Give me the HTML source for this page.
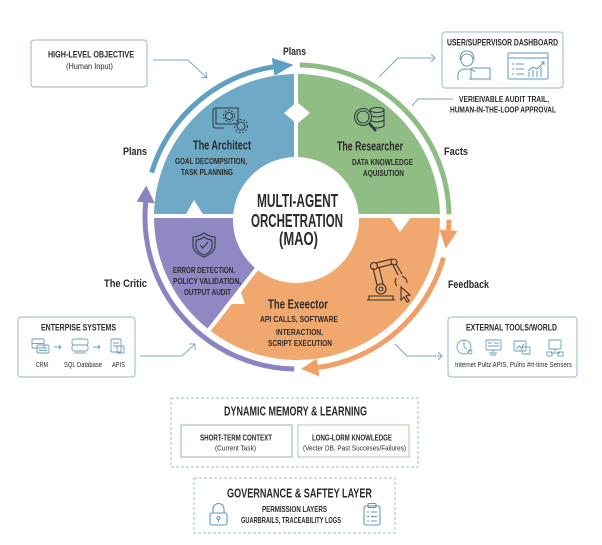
<!DOCTYPE html>
<html>
<head>
<meta charset="utf-8">
<style>
html,body{margin:0;padding:0;background:#fff;}
svg{display:block;}
text{font-family:"Liberation Sans",sans-serif;fill:#2b2b2b;}
.b{font-weight:bold;}
</style>
</head>
<body>
<svg width="602" height="545" viewBox="0 0 602 545" xmlns="http://www.w3.org/2000/svg">
<rect width="602" height="545" fill="#fff"/>

<!-- Quadrant sectors -->
<path d="M297,217 L154,217 A143,143 0 0 1 297,74 Z" fill="#6eaac5"/>
<path d="M297,217 L297,74 A143,143 0 0 1 440,217 Z" fill="#90bd83"/>
<path d="M297,217 L440,217 A143,143 0 0 1 209,329.7 Z" fill="#f0a86f"/>
<path d="M297,217 L209,329.7 A143,143 0 0 1 154,217 Z" fill="#9088c3"/>

<!-- Gaps -->
<line x1="296" y1="68" x2="296" y2="218" stroke="#fff" stroke-width="4"/>
<line x1="148" y1="216" x2="446" y2="216" stroke="#fff" stroke-width="4"/>
<line x1="297" y1="217" x2="205" y2="335" stroke="#fff" stroke-width="4"/>

<!-- Notches -->
<polygon points="297,102 310,113 297,124 284,113" fill="#fff"/>
<polygon points="185,216 194,200 204,216" fill="#fff"/>
<polygon points="389,216 400,232 412,216" fill="#fff"/>
<polygon points="240,290 229,304 245,304" fill="#fff"/>

<!-- Inner circle -->
<circle cx="296" cy="220" r="63" fill="#fff"/>

<!-- Outer ring arrows -->
<path d="M151.6,172.6 A152,152 0 0 1 273.2,66.9" fill="none" stroke="#5f9fc0" stroke-width="5"/>
<polygon points="274.6,75.8 271.8,58.0 293.5,64.8" fill="#5f9fc0"/>

<path d="M299.7,65 A152,152 0 0 1 449,214.3" fill="none" stroke="#8ebd83" stroke-width="5"/>

<path d="M449,219.7 A152,152 0 0 1 448.4,230.2" fill="none" stroke="#f0a066" stroke-width="5"/>
<polygon points="439.5,229.5 457.4,231 445.7,248.6" fill="#f0a066"/>

<path d="M443.5,257.6 A152,152 0 0 1 318.2,367.5" fill="none" stroke="#f0a066" stroke-width="5"/>
<polygon points="316.9,358.6 319.4,376.4 301,368.9" fill="#f0a066"/>

<path d="M294.3,369 A152,152 0 0 1 145.7,202.4" fill="none" stroke="#8a84c4" stroke-width="5"/>
<polygon points="154.7,203.3 136.7,201.6 146.3,185.4" fill="#8a84c4"/>

<!-- Ring labels -->
<text x="283" y="55" font-size="11" class="b" textLength="23" lengthAdjust="spacingAndGlyphs">Plans</text>
<text x="123" y="155" font-size="11" class="b" textLength="24" lengthAdjust="spacingAndGlyphs">Plans</text>
<text x="444" y="155" font-size="11" class="b" textLength="24" lengthAdjust="spacingAndGlyphs">Facts</text>
<text x="104" y="287" font-size="11" class="b" textLength="43" lengthAdjust="spacingAndGlyphs">The Critic</text>
<text x="448" y="288" font-size="11" class="b" textLength="41" lengthAdjust="spacingAndGlyphs">Feedback</text>

<!-- Center text -->
<text x="257" y="207" font-size="18" class="b" textLength="81" lengthAdjust="spacingAndGlyphs">MULTI-AGENT</text>
<text x="251" y="227" font-size="18" class="b" textLength="92" lengthAdjust="spacingAndGlyphs">ORCHETRATION</text>
<text x="279" y="245" font-size="18" class="b" textLength="39" lengthAdjust="spacingAndGlyphs">(MAO)</text>

<!-- Architect -->
<g fill="none" stroke="#2f3b44" stroke-width="1">
  <path d="M216,108 h22 v16 h-22 z"/>
  <path d="M216,108 q-3,0 -3,3 v14 q0,3 3,3 h8"/>
  <circle cx="229" cy="116" r="3.5"/>
  <circle cx="229" cy="116" r="5.5" stroke-dasharray="2 1.5"/>
  <circle cx="241" cy="126" r="4"/>
  <circle cx="241" cy="126" r="6.5" stroke-dasharray="2 1.6"/>
</g>
<text x="193" y="149.5" font-size="12.5" class="b" textLength="58" lengthAdjust="spacingAndGlyphs">The Architect</text>
<text x="175" y="164" font-size="8.5" class="b" textLength="72" lengthAdjust="spacingAndGlyphs">GOAL DECOMPSITION,</text>
<text x="181" y="175" font-size="8.5" class="b" textLength="52" lengthAdjust="spacingAndGlyphs">TASK PLANNING</text>

<!-- Researcher -->
<g fill="none" stroke="#2f3b44" stroke-width="1.1">
  <ellipse cx="377" cy="110" rx="7" ry="2.5"/>
  <path d="M370,110 v16 q7,4 14,0 v-16"/>
  <path d="M370,115 q7,4 14,0 M370,120 q7,4 14,0"/>
  <circle cx="363" cy="117" r="8.5" fill="#90bd83"/>
  <circle cx="363" cy="117" r="6"/>
  <path d="M369,123 l7,8" stroke-width="2.5"/>
</g>
<text x="337" y="150.5" font-size="12.5" class="b" textLength="66" lengthAdjust="spacingAndGlyphs">The Researcher</text>
<text x="352" y="165" font-size="8.5" class="b" textLength="61" lengthAdjust="spacingAndGlyphs">DATA KNOWLEDGE</text>
<text x="363" y="176" font-size="8.5" class="b" textLength="41" lengthAdjust="spacingAndGlyphs">AQUISUTION</text>

<!-- Critic shield -->
<g fill="none" stroke="#2f3b44" stroke-width="1.1">
  <path d="M204,233 q-6,4 -11,4 v8 q0,8 11,12 q11,-4 11,-12 v-8 q-5,0 -11,-4 z"/>
  <path d="M204,237 q-4,3 -8,3 v6 q0,6 8,9 q8,-3 8,-9 v-6 q-4,0 -8,-3 z"/>
  <path d="M200,245 l3,3 l5,-6"/>
</g>
<text x="173" y="273" font-size="8.5" class="b" textLength="62" lengthAdjust="spacingAndGlyphs">ERROR DETECTION,</text>
<text x="173" y="284" font-size="8.5" class="b" textLength="68" lengthAdjust="spacingAndGlyphs">POLICY VALIDATION,</text>
<text x="184" y="295" font-size="8.5" class="b" textLength="47" lengthAdjust="spacingAndGlyphs">OUTPUT AUDIT</text>

<!-- Executor robot -->
<g fill="none" stroke="#3a3026" stroke-width="1.1">
  <path d="M367,300 h28 M369,300 v-4 h24 v4"/>
  <circle cx="381" cy="289" r="5"/>
  <circle cx="381" cy="289" r="2"/>
  <path d="M377,285 l-4,-17 M383,284 l-4,-17"/>
  <circle cx="374" cy="266" r="3.5"/>
  <path d="M376,263 l16,-4 M377,268 l16,-4"/>
  <circle cx="394" cy="262" r="3"/>
  <path d="M396,264 l6,10 M393,265 l5,10"/>
  <path d="M396,278 q-2,5 1,8 M402,276 q5,2 5,7"/>
  <path d="M401,287 l0,13 l3,-3 l3,5 l2,-1 l-3,-5 l4,-1 z"/>
</g>
<text x="268" y="308.5" font-size="12.5" class="b" textLength="60" lengthAdjust="spacingAndGlyphs">The Exeector</text>
<text x="260" y="322" font-size="8.5" class="b" textLength="78" lengthAdjust="spacingAndGlyphs">API CALLS, SOFTWARE</text>
<text x="276" y="335" font-size="8.5" class="b" textLength="47" lengthAdjust="spacingAndGlyphs">INTERACTION,</text>
<text x="268" y="346" font-size="8.5" class="b" textLength="64" lengthAdjust="spacingAndGlyphs">SCRIPT EXECUTION</text>

<!-- High-level objective box -->
<rect x="31" y="40" width="116" height="47" rx="3" fill="#fff" stroke="#8fb9d0" stroke-width="1"/>
<text x="48" y="57.5" font-size="9.5" class="b" textLength="86" lengthAdjust="spacingAndGlyphs">HIGH-LEVEL OBJECTIVE</text>
<text x="66" y="69" font-size="8.5" textLength="47" lengthAdjust="spacingAndGlyphs">(Human Input)</text>
<g fill="none" stroke="#7fa9c2" stroke-width="1">
  <path d="M153,60 h35 l19,18"/>
  <path d="M201,77 l6,1 l-1,-6"/>
</g>

<!-- User dashboard box -->
<rect x="442" y="32" width="121" height="56" rx="3" fill="#fff" stroke="#8fb9d0" stroke-width="1"/>
<text x="447" y="45.5" font-size="9.5" class="b" textLength="111" lengthAdjust="spacingAndGlyphs">USER/SUPERVISOR DASHBOARD</text>
<g fill="none" stroke="#5f98bd" stroke-width="1">
  <circle cx="467" cy="60" r="6"/>
  <path d="M460,60 q0,-9 7,-9 q7,0 7,9"/>
  <path d="M458,80 v-5 q0,-6 9,-6 q6,0 8,3"/>
  <rect x="471" y="68" width="19" height="11" rx="1"/>
  <path d="M469,79 h22"/>
  <rect x="508" y="53" width="40" height="26" rx="1"/>
  <path d="M508,58 h40"/>
  <path d="M512,64 h2 M516,64 h8 M512,69 h2 M516,69 h8 M512,74 h2 M516,74 h8"/>
  <path d="M529,77 v-5 M533,77 v-7 M537,77 v-6 M541,77 v-10"/>
  <path d="M528,71 l5,-4 l4,2 l7,-7 M541,62 h3 v3"/>
</g>
<g fill="none" stroke="#7fa9c2" stroke-width="1">
  <path d="M379,77 l19,-19 h37"/>
  <path d="M431,54 l4,4 l-4,4"/>
  <path d="M412,106 l6,-7 h35"/>
</g>
<text x="459" y="102" font-size="8" class="b" textLength="90" lengthAdjust="spacingAndGlyphs">VERIEIVABLE AUDIT TRAIL,</text>
<text x="450" y="112.5" font-size="8" class="b" textLength="106" lengthAdjust="spacingAndGlyphs">HUMAN-IN-THE-LOOP APPROVAL</text>

<!-- Enterprise box -->
<rect x="18" y="317" width="117" height="60" rx="3" fill="#fff" stroke="#8fb9d0" stroke-width="1"/>
<text x="41" y="330.5" font-size="9.5" class="b" textLength="75" lengthAdjust="spacingAndGlyphs">ENTERPISE SYSTEMS</text>
<g fill="none" stroke="#6a9ec0" stroke-width="0.9">
  <rect x="32" y="339" width="12" height="9" rx="1"/>
  <path d="M32,343.5 h12"/>
  <rect x="37" y="345" width="12" height="8" rx="1"/>
  <path d="M39,348 h8 M39,350.5 h8"/>
  <path d="M54,347 h7 M59,345 l2,2 l-2,2"/>
  <rect x="72" y="339" width="16" height="6" rx="2"/>
  <rect x="72" y="345" width="16" height="6" rx="2"/>
  <path d="M74,353 h12"/>
  <path d="M93,347 h7 M98,345 l2,2 l-2,2"/>
  <rect x="111" y="339" width="10" height="13" rx="1"/>
  <path d="M113,343 h6 M113,346 h6"/>
  <rect x="117" y="346" width="7" height="7" rx="1"/>
</g>
<text x="36" y="367" font-size="7.5" textLength="12" lengthAdjust="spacingAndGlyphs">CRM</text>
<text x="64" y="367" font-size="7.5" textLength="38" lengthAdjust="spacingAndGlyphs">SQL Database</text>
<text x="112" y="367" font-size="7.5" textLength="13" lengthAdjust="spacingAndGlyphs">APIS</text>
<g fill="none" stroke="#7fa9c2" stroke-width="1">
  <path d="M140,356 h42 l13,-12"/>
  <path d="M189,344 h6 v6"/>
</g>

<!-- External tools box -->
<rect x="448" y="317" width="129" height="60" rx="3" fill="#fff" stroke="#8fb9d0" stroke-width="1"/>
<text x="466" y="330.5" font-size="9.5" class="b" textLength="91" lengthAdjust="spacingAndGlyphs">EXTERNAL TOOLS/WORLD</text>
<g fill="none" stroke="#6a9ec0" stroke-width="0.9">
  <circle cx="464" cy="347" r="7"/>
  <path d="M464,341 v6 l3,2"/>
  <circle cx="470" cy="352" r="2"/>
  <rect x="486" y="340" width="15" height="10" rx="1"/>
  <path d="M488,343 h4 M494,343 h5 M488,346 h11"/>
  <path d="M493,350 v3 M489,353 h8 M490,355 h6"/>
  <rect x="514" y="341" width="12" height="10" rx="1"/>
  <path d="M516,349 l3,-3 l2,2 l3,-4"/>
  <rect x="522" y="347" width="8" height="7" rx="1"/>
  <rect x="549" y="340" width="12" height="9" rx="1"/>
  <path d="M555,349 v3 M551,353 h9"/>
  <rect x="547" y="352" width="5" height="4"/>
  <rect x="558" y="352" width="5" height="4"/>
</g>
<text x="455" y="367" font-size="7.5" textLength="117" lengthAdjust="spacingAndGlyphs">Internet Pultz APIS, Pulris #rt-time Sensers</text>
<g fill="none" stroke="#7fa9c2" stroke-width="1">
  <path d="M395,344 l12,12 h35"/>
  <path d="M438,352 l4,4 l-4,4"/>
</g>

<!-- Dynamic memory -->
<rect x="171" y="398" width="247" height="69" fill="none" stroke="#9cc0d6" stroke-width="1" stroke-dasharray="3 2"/>
<text x="224" y="415.5" font-size="12.5" class="b" textLength="143" lengthAdjust="spacingAndGlyphs">DYNAMIC MEMORY &amp; LEARNING</text>
<rect x="181" y="425" width="111" height="32" fill="#fff" stroke="#8fb2cb" stroke-width="1"/>
<text x="200" y="440.5" font-size="8.5" class="b" textLength="72" lengthAdjust="spacingAndGlyphs">SHORT-TERM CONTEXT</text>
<text x="215" y="450.5" font-size="7.5" textLength="41" lengthAdjust="spacingAndGlyphs">(Current Task)</text>
<rect x="298" y="425" width="111" height="32" fill="#fff" stroke="#aacf99" stroke-width="1"/>
<text x="312" y="440.5" font-size="8.5" class="b" textLength="80" lengthAdjust="spacingAndGlyphs">LONG-LORM KNOWLEDGE</text>
<text x="303" y="450.5" font-size="7.5" textLength="103" lengthAdjust="spacingAndGlyphs">(Vecter DB, Past Succeses/Failures)</text>

<!-- Governance -->
<rect x="194" y="478" width="201" height="55" fill="none" stroke="#9cc0d6" stroke-width="1" stroke-dasharray="3 2"/>
<text x="227" y="497.5" font-size="12.5" class="b" textLength="145" lengthAdjust="spacingAndGlyphs">GOVERNANCE &amp; SAFTEY LAYER</text>
<text x="262" y="512" font-size="8.5" class="b" textLength="65" lengthAdjust="spacingAndGlyphs">PERMISSION LAYERS</text>
<text x="241" y="523" font-size="8.5" class="b" textLength="100" lengthAdjust="spacingAndGlyphs">GUARBRAILS, TRACEABILITY LOGS</text>
<g fill="none" stroke="#5f98bd" stroke-width="1.1">
  <path d="M213,513 v-4 a5.5,5.5 0 0 1 11,0 v4"/>
  <rect x="210" y="513" width="17" height="12" rx="2"/>
  <circle cx="218.5" cy="518" r="1.5"/>
  <path d="M218.5,519.5 v2.5"/>
  <rect x="364" y="506" width="16" height="19" rx="2"/>
  <rect x="368" y="503.5" width="8" height="4" rx="1"/>
  <path d="M367,512 h2 M371,512 h6 M367,516.5 h2 M371,516.5 h6 M367,521 h2 M371,521 h6"/>
</g>
</svg>
</body>
</html>
